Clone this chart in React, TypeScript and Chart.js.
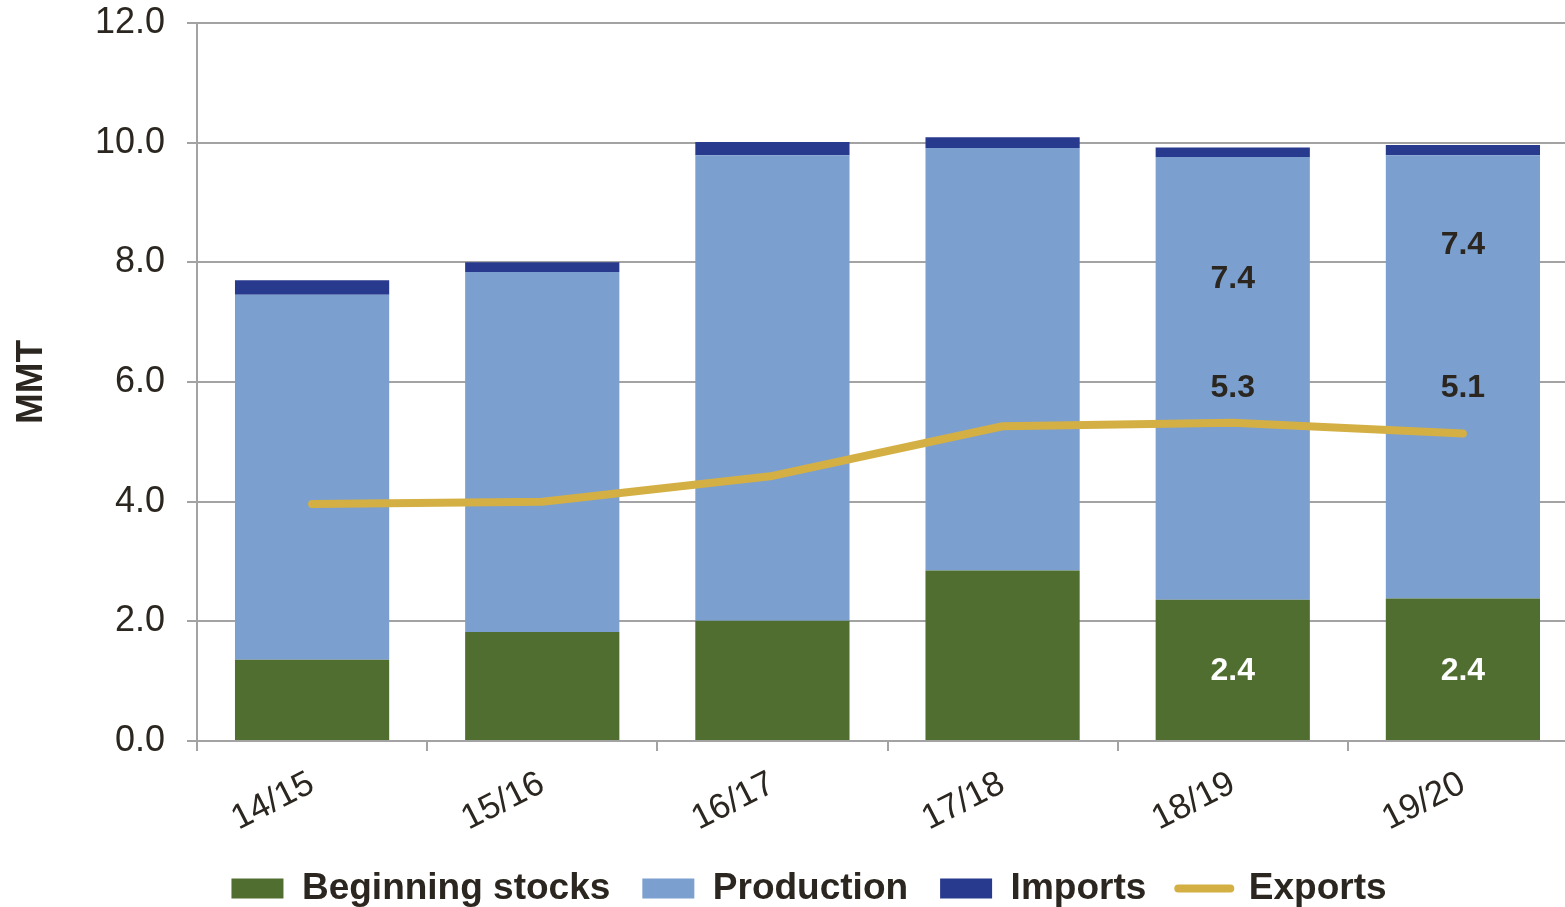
import React, { useEffect, useRef } from "react";
import { Chart, registerables } from "chart.js";

Chart.register(...registerables);

const categories = ["14/15", "15/16", "16/17", "17/18", "18/19", "19/20"];
const beginningStocks = [1.36, 1.82, 2.01, 2.85, 2.36, 2.38];
const production = [6.1, 6.02, 7.78, 7.06, 7.4, 7.41];
const imports = [0.24, 0.16, 0.22, 0.18, 0.16, 0.17];
const exportsSeries = [3.96, 4.0, 4.43, 5.26, 5.32, 5.14];

const yTicks = [0, 2, 4, 6, 8, 10, 12];

// value labels written on the chart
const annoCategory = ["18/19", "18/19", "18/19", "19/20", "19/20", "19/20"];
const annoText = ["7.4", "5.3", "2.4", "7.4", "5.1", "2.4"];
const annoValue = [7.72, 5.9, 1.17, 8.28, 5.89, 1.17];
const annoLight = [false, false, true, false, false, true];

const FONT = "'Liberation Sans', Arial, Helvetica, sans-serif";
const TEXT = "#2B2720";
const GRID = "#A3A3A3";
const C_STOCKS = "#506E2F";
const C_PROD = "#7B9FCF";
const C_IMP = "#283A8E";
const C_EXP = "#D4B044";

const annotationPlugin = {
  id: "valueAnnotations",
  afterDatasetsDraw(chart: any) {
    const { ctx, scales } = chart;
    ctx.save();
    ctx.font = `bold 32px ${FONT}`;
    ctx.textAlign = "center";
    ctx.textBaseline = "middle";
    for (let i = 0; i < annoText.length; i++) {
      const idx = categories.indexOf(annoCategory[i]);
      const x = scales.x.getPixelForValue(idx);
      const y = scales.y.getPixelForValue(annoValue[i]);
      ctx.fillStyle = annoLight[i] ? "#FFFFFF" : TEXT;
      ctx.fillText(annoText[i], x, y);
    }
    ctx.restore();
  },
};

export default function App() {
  const ref = useRef<HTMLCanvasElement | null>(null);

  useEffect(() => {
    if (!ref.current) return;
    const chart = new Chart(ref.current, {
      type: "bar",
      data: {
        labels: categories,
        datasets: [
          {
            type: "bar",
            label: "Beginning stocks",
            data: beginningStocks,
            backgroundColor: C_STOCKS,
            stack: "supply",
            order: 1,
            categoryPercentage: 1,
            barPercentage: 0.67,
          },
          {
            type: "bar",
            label: "Production",
            data: production,
            backgroundColor: C_PROD,
            stack: "supply",
            order: 1,
            categoryPercentage: 1,
            barPercentage: 0.67,
          },
          {
            type: "bar",
            label: "Imports",
            data: imports,
            backgroundColor: C_IMP,
            stack: "supply",
            order: 1,
            categoryPercentage: 1,
            barPercentage: 0.67,
          },
          {
            type: "line",
            label: "Exports",
            data: exportsSeries,
            borderColor: C_EXP,
            backgroundColor: C_EXP,
            borderWidth: 8,
            borderCapStyle: "round",
            borderJoinStyle: "round",
            pointRadius: 0,
            tension: 0,
            fill: false,
            stack: "exports",
            order: 0,
          },
        ] as any,
      },
      options: {
        animation: false,
        responsive: false,
        maintainAspectRatio: false,
        layout: { padding: { left: 40, right: 2, top: 23, bottom: -10 } },
        plugins: {
          tooltip: { enabled: false },
          legend: {
            position: "bottom",
            labels: {
              usePointStyle: true,
              pointStyleWidth: 52,
              boxHeight: 20,
              padding: 32,
              color: TEXT,
              font: { family: FONT, size: 37, weight: "bold" },
              generateLabels: (chart: any) =>
                chart.data.datasets.map((ds: any, i: number) => {
                  const isLine = ds.type === "line";
                  return {
                    text: ds.label,
                    datasetIndex: i,
                    fillStyle: isLine ? C_EXP : ds.backgroundColor,
                    strokeStyle: isLine ? C_EXP : ds.backgroundColor,
                    lineWidth: isLine ? 8 : 0,
                    lineCap: isLine ? "round" : "butt",
                    pointStyle: isLine ? "line" : "rect",
                    fontColor: TEXT,
                    hidden: false,
                  };
                }),
            },
          },
        },
        scales: {
          x: {
            stacked: true,
            offset: true,
            grid: {
              display: true,
              offset: true,
              drawOnChartArea: false,
              drawTicks: true,
              tickLength: 10,
              color: GRID,
              lineWidth: 2,
            },
            border: { display: true, color: GRID, width: 2 },
            ticks: {
              color: TEXT,
              font: { family: FONT, size: 35 },
              minRotation: 27,
              maxRotation: 27,
              padding: 12,
            },
            afterFit: (scale: any) => {
              scale.height = 97;
            },
          },
          y: {
            stacked: true,
            min: 0,
            max: 12,
            afterBuildTicks: (scale: any) => {
              scale.ticks = yTicks.map((v) => ({ value: v }));
            },
            grid: {
              color: GRID,
              lineWidth: 2,
              drawTicks: true,
              tickLength: 10,
            },
            border: { display: true, color: GRID, width: 2 },
            ticks: {
              color: TEXT,
              font: { family: FONT, size: 36 },
              padding: 22,
              callback: (v: any) => Number(v).toFixed(1),
            },
            title: {
              display: true,
              text: "MMT",
              color: TEXT,
              font: { family: FONT, size: 37, weight: "bold" },
              padding: { top: -30, bottom: 0 },
            },
            afterFit: (scale: any) => {
              scale.width = 157;
              scale.paddingTop = 0;
              scale.paddingBottom = 0;
            },
          },
        },
      } as any,
      plugins: [annotationPlugin],
    });
    return () => chart.destroy();
  }, []);

  return (
    <div
      style={{
        position: "fixed",
        left: 0,
        top: 0,
        width: 1565,
        height: 907,
        overflow: "hidden",
        background: "#FFFFFF",
      }}
    >
      <canvas ref={ref} width={1580} height={907} style={{ display: "block" }} />
    </div>
  );
}
